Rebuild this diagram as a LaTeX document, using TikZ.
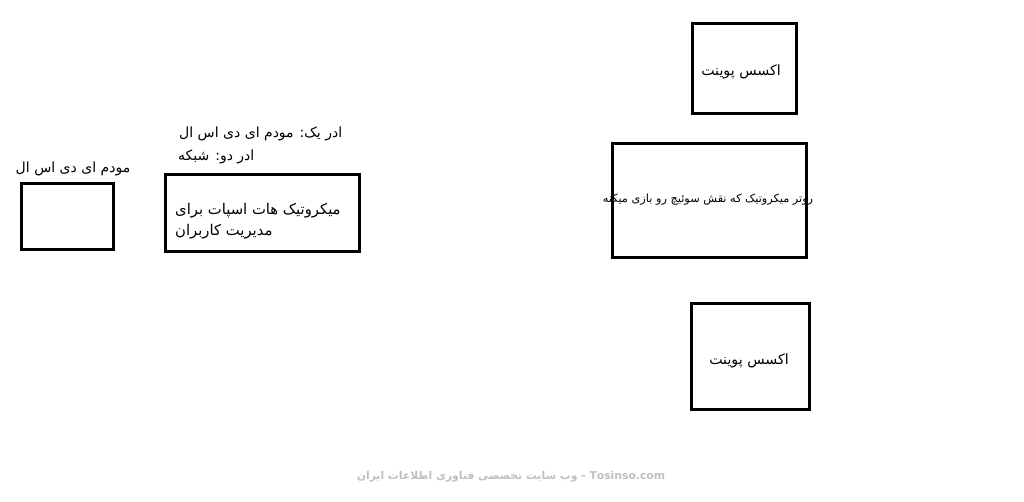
\documentclass[tikz,border=0pt]{standalone}
\usepackage{fontspec}
\TeXXeTstate=1
\newfontfamily\arabicfont[Script=Arabic]{DejaVu Sans}
\begin{document}
\begin{tikzpicture}[x=1pt,y=-1pt,
  box/.style={draw=black,line width=3pt},
  lbl/.style={inner sep=0pt,font=\arabicfont\fontsize{14}{17}\selectfont},
]
\useasboundingbox (0,0) rectangle (1024,502);
% boxes
\draw[box] (21,184) rectangle (113,250) coordinate (modembox);
\draw[box] (165,175) rectangle (359,252) coordinate (hsbox);
\draw[box] (612,144) rectangle (806,258) coordinate (rtbox);
\draw[box] (692,24) rectangle (796,114) coordinate (ap1box);
\draw[box] (691,303) rectangle (809,409) coordinate (ap2box);
% labels
\node[lbl] (modem) at (73,169) {\beginR مودم ای دی اس ال\endR};
\node[lbl,anchor=west] (port1) at (179,134) {\beginR ادر یک: مودم ای دی اس ال\endR};
\node[lbl,anchor=west] (port2) at (178,157) {\beginR ادر دو: شبکه\endR};
\node[lbl,anchor=west,font=\arabicfont\fontsize{14.8}{18}\selectfont] (hs1) at (175,211) {\beginR میکروتیک هات اسپات برای\endR};
\node[lbl,anchor=west,font=\arabicfont\fontsize{14.8}{18}\selectfont] (hs2) at (175,232) {\beginR مدیریت کاربران\endR};
\node[lbl,font=\arabicfont\fontsize{11.3}{13}\selectfont] (router) at (708,200) {\beginR روتر میکروتیک که نقش سوئیچ رو بازی میکنه\endR};
\node[lbl,font=\arabicfont\fontsize{14.2}{17}\selectfont] (ap1) at (741,72) {\beginR اکسس پوینت\endR};
\node[lbl,font=\arabicfont\fontsize{14.2}{17}\selectfont] (ap2) at (749,361) {\beginR اکسس پوینت\endR};
% watermark
\node[inner sep=0pt,text=black!25,font=\arabicfont\bfseries\fontsize{10.8}{13}\selectfont] (wm) at (511,477) {\beginR\beginL Tosinso.com\endL{} - وب سایت تخصصی فناوری اطلاعات ایران\endR};
\end{tikzpicture}
\end{document}
